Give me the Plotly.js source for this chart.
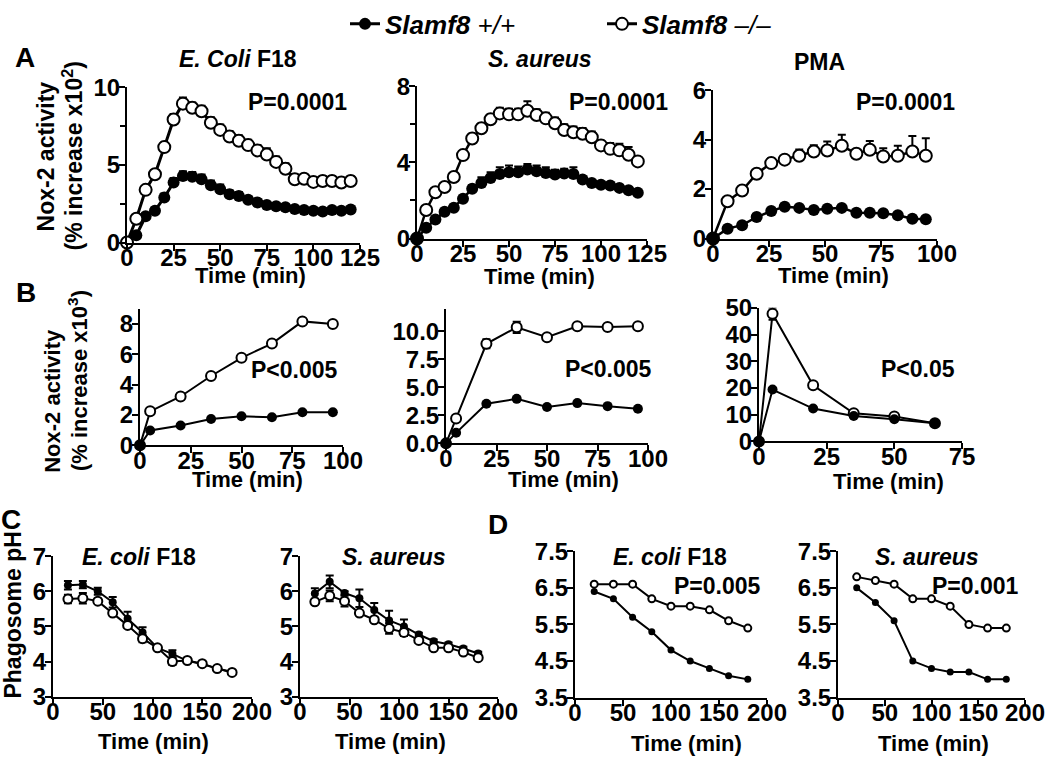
<!DOCTYPE html>
<html>
<head>
<meta charset="utf-8">
<script src="https://cdn.plot.ly/plotly-3.0.1.min.js"></script>
<style>
  html, body { margin: 0; padding: 0; background: #fff; }
  #chart { width: 1050px; height: 761px; }
</style>
</head>
<body>
<div id="chart"></div>
<script>
// ---- data ----
const tA = [0, 5, 10, 15, 20, 25, 30, 35, 40, 45, 50, 55, 60, 65, 70, 75, 80, 85, 90, 95, 100, 105, 110, 115, 120];
const a1Ko = [0, 1.53, 3.39, 4.39, 6.14, 7.92, 8.94, 8.67, 8.45, 7.71, 7.25, 6.82, 6.55, 6.27, 5.93, 5.66, 5.19, 4.75, 4.07, 4.10, 3.90, 3.96, 3.96, 3.86, 3.96];
const a1KoErr = [0, 0.15, 0.2, 0.25, 0.3, 0.35, 0.4, 0.35, 0.35, 0.35, 0.35, 0.35, 0.35, 0.35, 0.35, 0.4, 0.35, 0.35, 0.3, 0.3, 0.3, 0.3, 0.3, 0.3, 0.3];
const a1Wt = [0, 0.47, 1.69, 2.05, 2.9, 3.86, 4.28, 4.24, 4.07, 3.69, 3.43, 3.11, 3.0, 2.75, 2.58, 2.42, 2.33, 2.27, 2.16, 2.1, 2.05, 2.0, 2.1, 2.05, 2.12];
const a1WtErr = [0, 0.1, 0.15, 0.2, 0.25, 0.3, 0.3, 0.3, 0.3, 0.3, 0.3, 0.25, 0.25, 0.2, 0.2, 0.15, 0.15, 0.15, 0.1, 0.1, 0.1, 0.1, 0.1, 0.1, 0.1];

const a2Ko = [0, 1.5, 2.43, 2.71, 3.23, 4.38, 5.25, 5.79, 6.26, 6.57, 6.52, 6.52, 6.71, 6.49, 6.31, 6.05, 5.7, 5.58, 5.5, 5.32, 4.89, 4.71, 4.63, 4.4, 4.05];
const a2KoErr = [0, 0.1, 0.15, 0.15, 0.2, 0.2, 0.25, 0.25, 0.25, 0.3, 0.3, 0.3, 0.5, 0.3, 0.3, 0.3, 0.3, 0.3, 0.3, 0.3, 0.25, 0.3, 0.35, 0.4, 0.2];
const a2Wt = [0, 0.57, 1.0, 1.41, 1.62, 2.09, 2.61, 2.92, 3.18, 3.39, 3.48, 3.48, 3.62, 3.53, 3.44, 3.36, 3.41, 3.39, 3.1, 2.92, 2.83, 2.78, 2.66, 2.54, 2.4];
const a2WtErr = [0, 0.1, 0.1, 0.1, 0.1, 0.15, 0.2, 0.3, 0.3, 0.35, 0.35, 0.3, 0.3, 0.3, 0.3, 0.25, 0.25, 0.35, 0.15, 0.1, 0.1, 0.1, 0.1, 0.1, 0.1];

const tPma = [0, 6.5, 13, 19.5, 26, 32, 38.5, 45, 51, 57.5, 64, 70, 76, 82.5, 89, 95];
const a3Ko = [0, 1.51, 1.94, 2.62, 3.05, 3.19, 3.35, 3.52, 3.56, 3.75, 3.43, 3.59, 3.32, 3.35, 3.52, 3.35];
const a3KoErr = [0, 0.1, 0.1, 0.1, 0.2, 0.15, 0.25, 0.25, 0.36, 0.45, 0.1, 0.35, 0.33, 0.4, 0.63, 0.7];
const a3Wt = [0, 0.4, 0.54, 0.87, 1.11, 1.29, 1.24, 1.15, 1.2, 1.24, 1.04, 1.04, 1.02, 0.94, 0.8, 0.78];
const a3WtErr = [0, 0.05, 0.05, 0.05, 0.05, 0.05, 0.05, 0.05, 0.05, 0.05, 0.05, 0.05, 0.1, 0.05, 0.05, 0.05];

const tB = [0, 5, 20, 35, 50, 65, 80, 95];
const b1Ko = [0, 2.24, 3.22, 4.57, 5.77, 6.71, 8.17, 8.0];
const b1Wt = [0, 0.98, 1.31, 1.74, 1.92, 1.85, 2.18, 2.18];
const b2Ko = [0, 2.21, 8.88, 10.35, 9.47, 10.44, 10.38, 10.44];
const b2KoErr = [0, 0, 0.4, 0.5, 0, 0, 0, 0];
const b2Wt = [0, 0.94, 3.53, 3.97, 3.24, 3.59, 3.32, 3.09];
const tB3 = [0, 5, 20, 35, 50, 65];
const b3Ko = [0, 47.8, 21.0, 10.5, 9.3, 6.8];
const b3KoErr = [0, 2.3, 0, 0, 0, 0];
const b3Wt = [0, 19.4, 12.3, 9.5, 8.3, 6.8];

const tC = [15, 30, 45, 60, 75, 90, 105, 120, 135, 150, 165, 180];
const c1Wt = [6.17, 6.19, 6.0, 5.69, 5.22, 4.83, 4.39, 4.22, 4.02, 3.93, 3.8, 3.7];
const c1WtErr = [0.12, 0.1, 0.1, 0.15, 0.2, 0.15, 0.05, 0.1, 0.05, 0.05, 0.05, 0.05];
const c1Ko = [5.78, 5.8, 5.72, 5.38, 5.03, 4.65, 4.39, 4.0, 4.03, 3.94, 3.8, 3.69];
const c1KoErr = [0.12, 0.15, 0.05, 0.05, 0.05, 0.1, 0.05, 0.1, 0.05, 0.05, 0.05, 0.05];
const c2Wt = [5.94, 6.27, 5.95, 5.8, 5.47, 5.17, 5.0, 4.77, 4.58, 4.49, 4.37, 4.23];
const c2WtErr = [0.15, 0.18, 0.05, 0.25, 0.2, 0.28, 0.2, 0.05, 0.05, 0.05, 0.05, 0.05];
const c2Ko = [5.7, 5.87, 5.72, 5.38, 5.19, 4.94, 4.83, 4.6, 4.39, 4.39, 4.27, 4.11];
const c2KoErr = [0.05, 0.15, 0.15, 0.05, 0.05, 0.15, 0.1, 0.05, 0.05, 0.05, 0.05, 0.05];

const tD = [20, 40, 60, 80, 100, 120, 140, 160, 180];
const d1Ko = [6.6, 6.6, 6.6, 6.2, 6.0, 6.0, 5.9, 5.6, 5.4];
const d1Wt = [6.4, 6.2, 5.7, 5.3, 4.8, 4.5, 4.3, 4.1, 4.0];
const d2Ko = [6.8, 6.7, 6.6, 6.2, 6.2, 6.0, 5.5, 5.4, 5.4];
const d2Wt = [6.5, 6.1, 5.6, 4.5, 4.3, 4.2, 4.2, 4.0, 4.0];

// ---- helpers ----
const W = 1050, H = 761;
const FAM = 'Liberation Sans, Arial, Helvetica, sans-serif';
const px = x => x / W;
const py = y => 1 - y / H;

const layout = {
    width: W, height: H,
    margin: { t: 0, b: 0, l: 0, r: 0 },
    paper_bgcolor: '#fff', plot_bgcolor: 'rgba(0,0,0,0)',
    font: { family: FAM, color: '#000', size: 21 },
    showlegend: true,
    legend: {
        orientation: 'h', x: 345 / W, xanchor: 'left', y: 1.01, yanchor: 'top',
        font: { family: FAM, size: 26, style: 'italic', color: '#000' },
        entrywidth: 212, entrywidthmode: 'pixels', tracegroupgap: 0
    },
    annotations: []
};

function setAxes(n, box, xr, xtv, yr, ytv, yfmt, minorY) {
    const s = n === 1 ? '' : String(n);
    const common = {
        showgrid: false, zeroline: false, showline: true, linecolor: '#000', linewidth: 2,
        ticks: 'outside', ticklen: 6, tickwidth: 2, tickcolor: '#000',
        tickfont: { family: FAM, size: 24, color: '#000' },
        fixedrange: true, tickmode: 'array'
    };
    layout['xaxis' + s] = Object.assign({}, common, {
        domain: [px(box[0]), px(box[1])], anchor: 'y' + s,
        range: xr, tickvals: xtv, ticktext: xtv.map(v => '<b>' + v + '</b>'),
        ticklabelstandoff: -13
    });
    const ya = Object.assign({}, common, {
        domain: [py(box[3]), py(box[2])], anchor: 'x' + s,
        range: yr, tickvals: ytv,
        ticktext: ytv.map(v => '<b>' + (yfmt ? v.toFixed(1) : String(v)) + '</b>'),
        ticklabelstandoff: -6
    });
    if (minorY) ya.minor = { tickmode: 'array', tickvals: minorY, ticks: 'outside', ticklen: 5, tickwidth: 2, tickcolor: '#000' };
    layout['yaxis' + s] = ya;
}

const traces = [];
function series(n, x, y, err, filled, size, lw, name, sym) {
    const s = n === 1 ? '' : String(n);
    const t = {
        x: x, y: y, xaxis: 'x' + s, yaxis: 'y' + s,
        type: 'scatter', mode: 'lines+markers', cliponaxis: false,
        line: { color: '#000', width: lw },
        marker: {
            symbol: 'circle', size: size,
            color: filled ? '#000' : '#fff',
            line: { color: '#000', width: filled ? 0 : 2 }
        },
        name: name || 'series', showlegend: !!name, hoverinfo: 'skip'
    };
    if (err) {
        t.error_y = sym
            ? { type: 'data', array: err, symmetric: true, color: '#000', thickness: 2, width: 4 }
            : { type: 'data', array: err, arrayminus: err.map(() => 0), symmetric: false, color: '#000', thickness: 2, width: 4 };
    }
    traces.push(t);
}

function ann(text, x, y, size, extra) {
    layout.annotations.push(Object.assign({
        text: '<b>' + text + '</b>', x: px(x), y: py(y), xref: 'paper', yref: 'paper',
        xanchor: 'center', yanchor: 'middle', showarrow: false,
        font: { family: FAM, size: size, color: '#000' }
    }, extra || {}));
}

// ---- panel A ----
setAxes(1, [127, 360, 80, 237], [0, 125], [0, 25, 50, 75, 100, 125], [0, 10], [0, 5, 10], false, [2.5, 7.5]);
setAxes(2, [417, 647, 79, 233], [0, 125], [0, 25, 50, 75, 100, 125], [0, 8], [0, 4, 8], false, [2, 6]);
setAxes(3, [713, 937, 83, 233], [0, 100], [0, 25, 50, 75, 100], [0, 6], [0, 2, 4, 6], false, null);

series(1, tA, a1Wt, a1WtErr, true, 12, 3, '<b>Slamf8</b> +/+');
series(1, tA, a1Ko, a1KoErr, false, 12, 3, '<b>Slamf8</b> \u2013/\u2013');
series(2, tA, a2Ko, a2KoErr, false, 12, 2.5);
series(2, tA, a2Wt, a2WtErr, true, 12, 2.5);
series(3, tPma, a3Ko, a3KoErr, false, 12, 2.5);
series(3, tPma, a3Wt, a3WtErr, true, 12, 2.5);

// ---- panel B ----
setAxes(4, [140, 343, 304, 442], [0, 100], [0, 25, 50, 75, 100], [0, 9], [0, 2, 4, 6, 8], false, null);
setAxes(5, [446, 648, 304, 440], [0, 100], [0, 25, 50, 75, 100], [0, 12], [0, 2.5, 5, 7.5, 10], true, null);
setAxes(6, [759, 962, 303, 438], [0, 75], [0, 25, 50, 75], [0, 50], [0, 10, 20, 30, 40, 50], false, null);

series(4, tB, b1Ko, null, false, 10, 2);
series(4, tB, b1Wt, null, true, 10, 2);
series(5, tB, b2Ko, b2KoErr, false, 10, 2, null, true);
series(5, tB, b2Wt, null, true, 10, 2);
series(6, tB3, b3Ko, b3KoErr, false, 10, 2, null, true);
series(6, tB3, b3Wt, null, true, 10, 2);

// ---- panel C ----
setAxes(7, [53, 252, 554, 696], [0, 200], [0, 50, 100, 150, 200], [3, 7], [3, 4, 5, 6, 7], false, null);
setAxes(8, [300, 498, 554, 696], [0, 200], [0, 50, 100, 150, 200], [3, 7], [3, 4, 5, 6, 7], false, null);

series(7, tC, c1Wt, c1WtErr, true, 8, 2, null, true);
series(7, tC, c1Ko, c1KoErr, false, 9, 2, null, true);
series(8, tC, c2Wt, c2WtErr, true, 8, 2, null, true);
series(8, tC, c2Ko, c2KoErr, false, 9, 2, null, true);

// ---- panel D ----
setAxes(9, [575, 767, 549, 697], [0, 200], [0, 50, 100, 150, 200], [3.5, 7.5], [3.5, 4.5, 5.5, 6.5, 7.5], true, null);
setAxes(10, [838, 1025, 549, 697], [0, 200], [0, 50, 100, 150, 200], [3.5, 7.5], [3.5, 4.5, 5.5, 6.5, 7.5], true, null);

series(9, tD, d1Ko, null, false, 7, 2);
series(9, tD, d1Wt, null, true, 7, 2);
series(10, tD, d2Ko, null, false, 7, 2);
series(10, tD, d2Wt, null, true, 7, 2);

// ---- text ----
ann('A', 25, 50, 28);
ann('B', 26, 288, 28);
ann('C', 11, 517, 28);
ann('D', 498, 522, 28);

ann('Nox-2 activity', 46, 150, 23, { textangle: -90 });
ann('(% increase x10<sup>2</sup>)', 73, 150, 23, { textangle: -90 });
ann('Nox-2 activity', 53, 397, 22, { textangle: -90 });
ann('(% increase x10<sup>3</sup>)', 78, 377, 22, { textangle: -90 });
ann('Phagosome pH', 13, 614, 23, { textangle: -90 });

ann('<i>E. Coli</i> F18', 238, 52, 23);
ann('<i>S. aureus</i>', 540, 52, 23);
ann('PMA', 819, 55, 23);
ann('<i>E. coli</i> F18', 139, 555, 23);
ann('<i>S. aureus</i>', 394, 555, 23);
ann('<i>E. coli</i> F18', 670, 555, 23);
ann('<i>S. aureus</i>', 927, 555, 23);

ann('P=0.0001', 297, 95, 23);
ann('P=0.0001', 618, 95, 23);
ann('P=0.0001', 905, 95, 23);
ann('P&lt;0.005', 294, 366, 23);
ann('P&lt;0.005', 608, 365, 23);
ann('P&lt;0.05', 918, 365, 23);
ann('P=0.005', 717, 584, 23);
ann('P=0.001', 975, 584, 23);

const timeLabels = [[250, 270], [539, 271], [833, 270], [247, 477], [563, 477], [888, 479], [153, 741], [390, 741], [686, 743], [933, 743]];
timeLabels.forEach(p => ann('Time (min)', p[0], p[1], 22));

Plotly.newPlot('chart', traces, layout, { staticPlot: true, displayModeBar: false });
</script>
</body>
</html>
